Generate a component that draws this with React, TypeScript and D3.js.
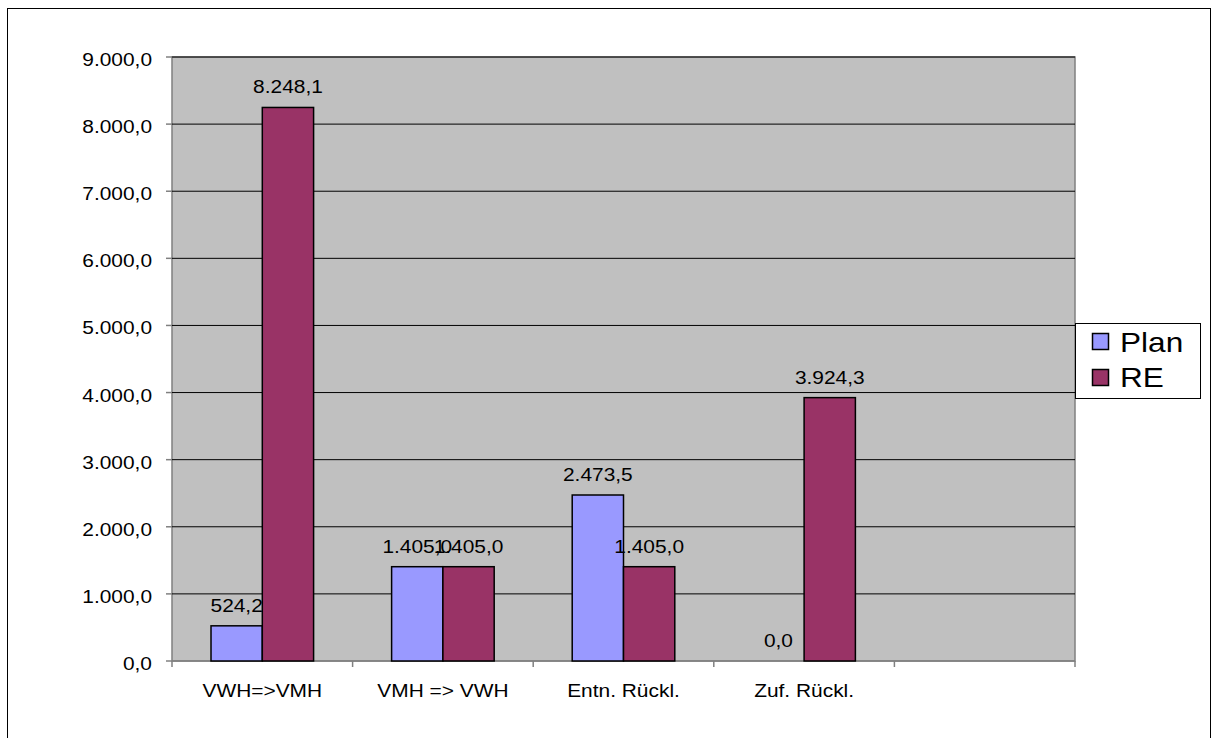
import React from "react";
import * as d3 from "d3";

const categories = ["VWH=>VMH", "VMH => VWH", "Entn. Rückl.", "Zuf. Rückl.", ""];
const planValues: (number | null)[] = [524.2, 1405.0, 2473.5, 0.0, null];
const reValues: (number | null)[] = [8248.1, 1405.0, 1405.0, 3924.3, null];
const seriesNames = ["Plan", "RE"];
const yTicks = [0, 1000, 2000, 3000, 4000, 5000, 6000, 7000, 8000, 9000];

const colors = ["#9999FF", "#993366"];
const fmt = (v: number) => {
  const s = v.toFixed(1).split(".");
  const int = s[0].replace(/\B(?=(\d{3})+(?!\d))/g, ".");
  return int + "," + s[1];
};

function T(props: { x: number; y: number; anchor?: string; size: number; sx: number; children: React.ReactNode }) {
  const { x, y, anchor = "start", size, sx, children } = props;
  return (
    <text transform={`translate(${x},${y}) scale(${sx},1)`} textAnchor={anchor} fontSize={size} fill="#000">
      {children}
    </text>
  );
}

export default function App() {
  const W = 1212, H = 738;
  const left = 172, right = 1075, top = 57, bottom = 661;
  const x = d3.scaleBand<string>().domain(categories.map((c, i) => String(i))).range([left, right]).paddingInner(0).paddingOuter(0);
  const y = d3.scaleLinear().domain([0, 9000]).range([bottom, top]);
  const slot = x.bandwidth();
  const gap = slot * 0.216;
  const barW = (slot - 2 * gap) / 2;
  const series = [planValues, reValues];
  const font = "Liberation Sans, Arial, sans-serif";
  const fs = 19, sx = 1.1;

  return (
    <svg width={W} height={H} style={{ position: "absolute", left: 0, top: 0 }} fontFamily={font}>
      <rect x={0} y={0} width={W} height={H} fill="#fff" />
      <rect x={7.5} y={8.5} width={1203} height={760} fill="none" stroke="#000" strokeWidth={1} />
      <rect x={left} y={top} width={right - left} height={bottom - top} fill="#C0C0C0" stroke="#808080" strokeWidth={1.5} />
      {yTicks.map((t) => (
        <g key={t}>
          {t > 0 && <line x1={left} x2={right} y1={y(t)} y2={y(t)} stroke="#000" strokeWidth={1} />}
          <line x1={left - 6} x2={left} y1={y(t)} y2={y(t)} stroke="#808080" strokeWidth={1.5} />
          <T x={152} y={y(t) + 9} anchor="end" size={fs} sx={sx}>{fmt(t)}</T>
        </g>
      ))}
      <line x1={left} x2={right} y1={bottom} y2={bottom} stroke="#808080" strokeWidth={1.5} />
      {categories.map((c, i) => (
        <line key={"t" + i} x1={x(String(i))!} x2={x(String(i))!} y1={bottom} y2={bottom + 6} stroke="#808080" strokeWidth={1.5} />
      ))}
      <line x1={right} x2={right} y1={bottom} y2={bottom + 6} stroke="#808080" strokeWidth={1.5} />
      {categories.map((c, i) => (
        <T key={"c" + i} x={x(String(i))! + slot / 2} y={697} anchor="middle" size={fs} sx={sx}>{c}</T>
      ))}
      {series.map((vals, s) =>
        vals.map((v, i) => {
          if (v === null) return null;
          const bx = x(String(i))! + gap + s * barW;
          return (
            <g key={s + "-" + i}>
              {v > 0 && <rect x={bx} y={y(v)} width={barW} height={bottom - y(v)} fill={colors[s]} stroke="#000" strokeWidth={1.5} />}
              <T x={bx + barW / 2} y={y(v) - 14} anchor="middle" size={fs} sx={sx}>{fmt(v)}</T>
            </g>
          );
        })
      )}
      <rect x={1075.5} y={323.5} width={125} height={75} fill="#fff" stroke="#000" strokeWidth={1} />
      {seriesNames.map((n, i) => (
        <g key={n}>
          <rect x={1092.5} y={333.5 + i * 36} width={16} height={16} fill={colors[i]} stroke="#000" strokeWidth={1.5} />
          <T x={1120} y={351.5 + i * 35.5} size={27} sx={1.17}>{n}</T>
        </g>
      ))}
    </svg>
  );
}
